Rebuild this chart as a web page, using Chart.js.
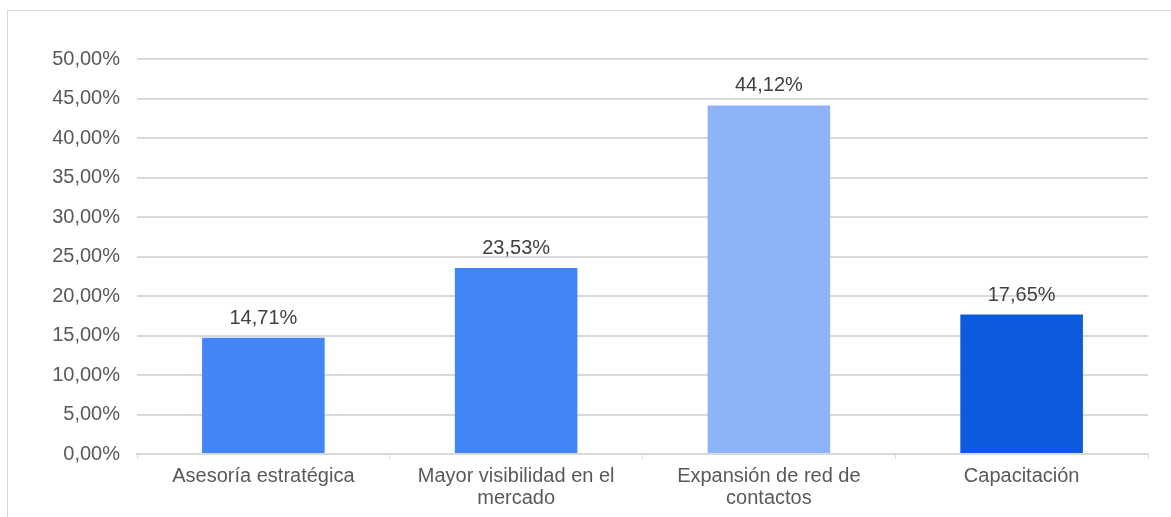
<!DOCTYPE html>
<html>
<head>
<meta charset="utf-8">
<script src="https://cdn.jsdelivr.net/npm/chart.js@4"></script>
<style>
  html, body { margin: 0; padding: 0; background: #fff; }
  #wrap { position: relative; width: 1171px; height: 517px; overflow: hidden; }
  #frame { position: absolute; left: 7px; top: 10px; width: 1200px; height: 540px; border: 1px solid #d9d9d9; box-sizing: border-box; }
  canvas { position: absolute; left: 0; top: 0; }
</style>
</head>
<body>
<div id="wrap">
  <div id="frame"></div>
  <canvas id="chart" width="1171" height="517"></canvas>
</div>
<script>
const categories = [
  "Asesoría estratégica",
  ["Mayor visibilidad en el", "mercado"],
  ["Expansión de red de", "contactos"],
  "Capacitación"
];
const values = [14.71, 23.53, 44.12, 17.65];
const barColors = ["#4285f4", "#4285f4", "#8db4f9", "#0d5bdc"];

const fmt = v => v.toFixed(2).replace(".", ",") + "%";
const FONT = "'Liberation Sans', Arial, sans-serif";

// write the value above each bar
const valueLabels = {
  id: "valueLabels",
  afterDatasetsDraw(chart) {
    const ctx = chart.ctx;
    const meta = chart.getDatasetMeta(0);
    ctx.save();
    ctx.font = "20px " + FONT;
    ctx.fillStyle = "#404040";
    ctx.textAlign = "center";
    ctx.textBaseline = "alphabetic";
    meta.data.forEach((bar, i) => {
      ctx.fillText(fmt(values[i]), bar.x, bar.y - 14);
    });
    ctx.restore();
  }
};

new Chart(document.getElementById("chart").getContext("2d"), {
  type: "bar",
  data: {
    labels: categories,
    datasets: [{
      data: values,
      backgroundColor: barColors,
      barPercentage: 0.97,
      categoryPercentage: 0.5
    }]
  },
  options: {
    responsive: false,
    animation: false,
    layout: { padding: { left: 0, right: 23, top: 59, bottom: 0 } },
    plugins: { legend: { display: false }, tooltip: { enabled: false } },
    scales: {
      x: {
        afterFit: s => { s.height = 63; },
        grid: { drawOnChartArea: false, drawTicks: true, tickLength: 5, offset: true, color: "#d9d9d9" },
        border: { color: "#d9d9d9", width: 2 },
        ticks: {
          color: "#595959",
          font: { family: FONT, size: 20, lineHeight: 1.1 },
          padding: 6,
          maxRotation: 0
        }
      },
      y: {
        min: 0,
        max: 50,
        afterFit: s => { s.width = 137; },
        grid: { color: "#d9d9d9", lineWidth: 2, drawTicks: false },
        border: { display: false },
        ticks: {
          stepSize: 5,
          padding: 17,
          color: "#595959",
          font: { family: FONT, size: 20 },
          callback: v => fmt(v)
        }
      }
    }
  },
  plugins: [valueLabels]
});
</script>
</body>
</html>
